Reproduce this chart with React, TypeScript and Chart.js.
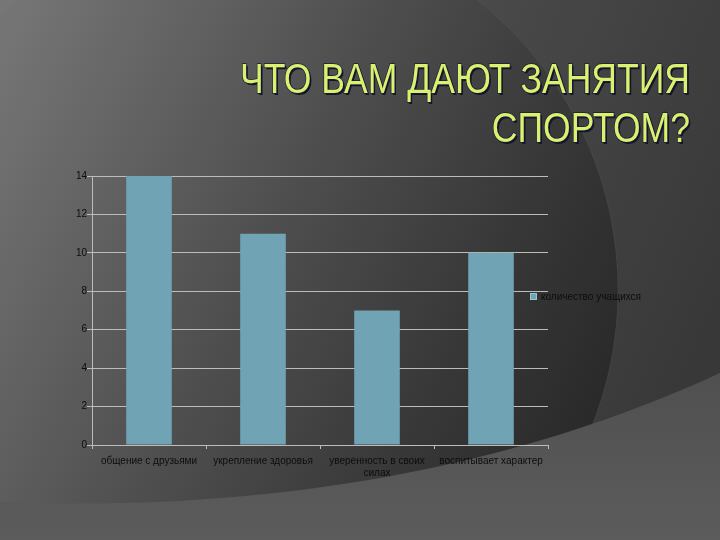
import React, { useEffect, useRef } from "react";
import { Chart, registerables } from "chart.js";

Chart.register(...registerables);

const categories: string[][] = [
  ["общение с друзьями"],
  ["укрепление здоровья"],
  ["уверенность в своих", "силах"],
  ["воспитывает характер"],
];
const values: number[] = [14, 11, 7, 10];
const seriesName = "количество учащихся";
const titleLines: string[] = ["ЧТО ВАМ ДАЮТ ЗАНЯТИЯ", "СПОРТОМ?"];
const yMin = 0;
const yMax = 14;
const yStep = 2;

const BAR_COLOR = "#70a4b4";
const TEXT_COLOR = "#0d0d0d";
const GRID_COLOR = "#bcbcbc";

const backgroundPlugin = {
  id: "slideBackground",
  beforeDraw(chart: any) {
    const ctx = chart.ctx as CanvasRenderingContext2D;
    const W = chart.width;
    const H = chart.height;
    ctx.save();
    // outside of big circle
    const g0 = ctx.createLinearGradient(0, 0, 720, 320);
    g0.addColorStop(0, "#777777");
    g0.addColorStop(0.55, "#4a4a4a");
    g0.addColorStop(1, "#383838");
    ctx.fillStyle = g0;
    ctx.fillRect(0, 0, W, H);
    // big circle
    const cx = 249, cy = 290, r = 369;
    const g1 = ctx.createLinearGradient(0, 60, 620, 360);
    g1.addColorStop(0, "#747474");
    g1.addColorStop(0.45, "#4f4f4f");
    g1.addColorStop(0.8, "#363636");
    g1.addColorStop(1, "#2a2a2a");
    ctx.beginPath();
    ctx.arc(cx, cy, r, 0, Math.PI * 2);
    ctx.fillStyle = g1;
    ctx.fill();
    ctx.strokeStyle = "rgba(110,110,110,0.2)";
    ctx.lineWidth = 1;
    ctx.stroke();
    // bottom swoosh
    ctx.beginPath();
    ctx.moveTo(0, 502);
    ctx.bezierCurveTo(250, 512, 500, 475, 720, 373);
    ctx.lineTo(720, 540);
    ctx.lineTo(0, 540);
    ctx.closePath();
    const g2 = ctx.createLinearGradient(0, 380, 0, 540);
    g2.addColorStop(0, "#505050");
    g2.addColorStop(1, "#5c5c5c");
    ctx.fillStyle = g2;
    ctx.fill();
    ctx.restore();
  },
};

const overlayPlugin = {
  id: "titleLegend",
  afterDraw(chart: any) {
    const ctx = chart.ctx as CanvasRenderingContext2D;
    ctx.save();
    // title
    ctx.font = "42px 'Liberation Sans', Arial, sans-serif";
    ctx.textBaseline = "alphabetic";
    ctx.textAlign = "left";
    const rightEdge = 690;
    const w1 = ctx.measureText(titleLines[0]).width;
    const sx = 450 / w1;
    const baselines = [93, 142];
    titleLines.forEach((line, i) => {
      const w = ctx.measureText(line).width * sx;
      ctx.save();
      ctx.translate(rightEdge - w, baselines[i]);
      ctx.scale(sx, 1);
      ctx.fillStyle = "#14142a";
      ctx.fillText(line, 2, 2);
      ctx.lineWidth = 1.5;
      ctx.strokeStyle = "#1c1c38";
      ctx.strokeText(line, 0, 0);
      ctx.fillStyle = "#d8f270";
      ctx.fillText(line, 0, 0);
      ctx.restore();
    });
    // legend
    ctx.fillStyle = BAR_COLOR;
    ctx.fillRect(530, 293, 7, 7);
    ctx.strokeStyle = "#9cc4d0";
    ctx.lineWidth = 1;
    ctx.strokeRect(530.5, 293.5, 6, 6);
    ctx.font = "10px 'Liberation Sans', Arial, sans-serif";
    ctx.fillStyle = TEXT_COLOR;
    ctx.textBaseline = "middle";
    ctx.fillText(seriesName, 541, 297);
    ctx.restore();
  },
};

export default function App() {
  const canvasRef = useRef<HTMLCanvasElement | null>(null);

  useEffect(() => {
    document.body.style.margin = "0";
    const canvas = canvasRef.current;
    if (!canvas) return;
    const chart = new Chart(canvas, {
      type: "bar",
      data: {
        labels: categories,
        datasets: [
          {
            label: seriesName,
            data: values,
            backgroundColor: BAR_COLOR,
            borderWidth: 0,
            categoryPercentage: 1,
            barPercentage: 0.4,
          },
        ],
      },
      options: {
        animation: false,
        responsive: false,
        maintainAspectRatio: false,
        layout: { padding: { top: 176, right: 172, bottom: 0, left: 0 } },
        plugins: {
          legend: { display: false },
          title: { display: false },
          tooltip: { enabled: false },
        },
        scales: {
          x: {
            offset: true,
            afterFit: (s: any) => {
              s.height = 95;
            },
            grid: {
              display: true,
              offset: true,
              drawOnChartArea: false,
              drawTicks: true,
              tickLength: 4,
              color: GRID_COLOR,
            },
            border: { display: true, color: GRID_COLOR, width: 1 },
            ticks: {
              color: TEXT_COLOR,
              font: { family: "'Liberation Sans', Arial, sans-serif", size: 10 },
              maxRotation: 0,
              autoSkip: false,
              padding: 6,
            },
          },
          y: {
            min: yMin,
            max: yMax,
            afterFit: (s: any) => {
              s.width = 92;
            },
            grid: {
              color: GRID_COLOR,
              lineWidth: 1,
              drawTicks: true,
              tickLength: 5,
            },
            border: { display: true, color: GRID_COLOR, width: 1 },
            ticks: {
              stepSize: yStep,
              color: TEXT_COLOR,
              font: { family: "'Liberation Sans', Arial, sans-serif", size: 10 },
              padding: 0,
            },
          },
        },
      },
      plugins: [backgroundPlugin, overlayPlugin],
    });
    return () => chart.destroy();
  }, []);

  return (
    <div style={{ position: "absolute", left: 0, top: 0, width: 720, height: 540 }}>
      <canvas ref={canvasRef} width={720} height={540} style={{ display: "block" }} />
    </div>
  );
}
